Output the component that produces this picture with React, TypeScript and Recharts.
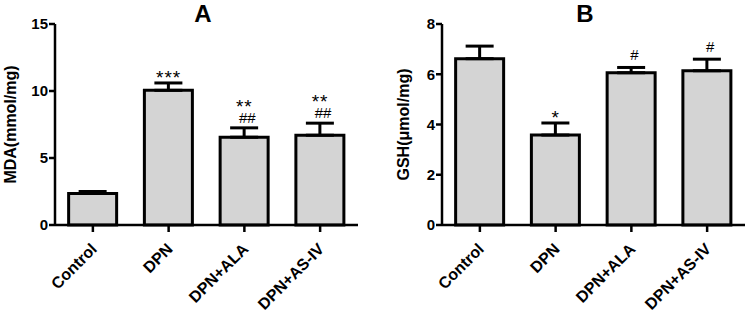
import { ComposedChart, Bar, ErrorBar, Scatter, XAxis, YAxis, Label } from "recharts";

const groups = ["Control", "DPN", "DPN+ALA", "DPN+AS-IV"];

const mdaMean = [2.35, 10.05, 6.55, 6.7];
const mdaErr = [0.15, 0.55, 0.7, 0.9];
const mdaStars = ["", "***", "**", "**"];
const mdaHashes = ["", "", "##", "##"];
const mdaTicks = [0, 5, 10, 15];

const gshMean = [6.62, 3.58, 6.06, 6.14];
const gshErr = [0.5, 0.48, 0.21, 0.46];
const gshStars = ["", "*", "", ""];
const gshHashes = ["", "", "#", "#"];
const gshTicks = [0, 2, 4, 6, 8];

const buildRows = (mean: number[], err: number[], stars: string[], hashes: string[]) =>
  groups.map((name, i) => ({
    name,
    mean: mean[i],
    err: [0, err[i]],
    tip: mean[i] + err[i],
    star: stars[i],
    hash: hashes[i],
  }));

const mdaRows = buildRows(mdaMean, mdaErr, mdaStars, mdaHashes);
const gshRows = buildRows(gshMean, gshErr, gshStars, gshHashes);

const RotTick = (props: any) => {
  const { x, y, payload } = props;
  const ax = x + 5;
  const ay = y + 16;
  return (
    <text
      x={ax}
      y={ay}
      transform={`rotate(-45, ${ax}, ${ay})`}
      textAnchor="end"
      fontSize={16}
      fontWeight="bold"
      fill="#000"
    >
      {payload.value}
    </text>
  );
};

// significance marks drawn above the error bar cap
const Marks = (props: any) => {
  const { cx, cy, payload } = props;
  const hasHash = !!payload.hash;
  return (
    <g>
      {payload.star && (
        <text x={cx} y={hasHash ? cy - 15 : cy + 1} textAnchor="middle" fontSize={19} letterSpacing={1} fill="#000">
          {payload.star}
        </text>
      )}
      {hasHash && (
        <text x={cx + 3} y={payload.star ? cy - 5 : cy - 7} textAnchor="middle" fontSize={15} fill="#000">
          {payload.hash}
        </text>
      )}
    </g>
  );
};

const axisLine = { stroke: "#000", strokeWidth: 2.5 };

function Panel({ rows, ticks, max, yLabel, yWidth, labelX, right }: any) {
  return (
    <ComposedChart
      width={375}
      height={310}
      data={rows}
      margin={{ top: 24, right, left: 0, bottom: 0 }}
      barCategoryGap="18%"
    >
      <XAxis
        dataKey="name"
        interval={0}
        height={85}
        tickSize={7}
        axisLine={axisLine}
        tickLine={axisLine}
        tick={<RotTick />}
      />
      <YAxis
        domain={[0, max]}
        ticks={ticks}
        width={yWidth}
        tickSize={6}
        tickMargin={1}
        axisLine={axisLine}
        tickLine={axisLine}
        tick={{ fontSize: 15, fontWeight: "bold", fill: "#000" }}
      >
        <Label
          content={(p: any) => {
            const vb = p.viewBox;
            const cx = vb.x + labelX;
            const cy = vb.y + vb.height / 2;
            return (
              <text
                x={cx}
                y={cy}
                transform={`rotate(-90, ${cx}, ${cy})`}
                textAnchor="middle"
                dominantBaseline="central"
                fontSize={16}
                fontWeight="bold"
                fill="#000"
              >
                {yLabel}
              </text>
            );
          }}
        />
      </YAxis>
      <Bar dataKey="mean" fill="#d4d4d4" stroke="#000" strokeWidth={3} isAnimationActive={false}>
        <ErrorBar dataKey="err" width={14} stroke="#000" strokeWidth={3} direction="y" />
      </Bar>
      <Scatter dataKey="tip" shape={<Marks />} isAnimationActive={false} />
    </ComposedChart>
  );
}

export default function App() {
  return (
    <div
      style={{
        position: "absolute",
        left: 0,
        top: 0,
        width: 750,
        height: 310,
        background: "#fff",
        fontFamily: "Arial, 'Liberation Sans', sans-serif",
      }}
    >
      <div style={{ display: "flex" }}>
        <Panel rows={mdaRows} ticks={mdaTicks} max={15} yLabel="MDA(mmol/mg)" yWidth={55} labelX={10} right={17} />
        <Panel rows={gshRows} ticks={gshTicks} max={8} yLabel="GSH(μmol/mg)" yWidth={67} labelX={28} right={5} />
      </div>
      <svg width={750} height={310} style={{ position: "absolute", left: 0, top: 0, pointerEvents: "none" }}>
        <text x={203} y={22} textAnchor="middle" fontSize={24} fontWeight="bold" fill="#000">A</text>
        <text x={585} y={22} textAnchor="middle" fontSize={24} fontWeight="bold" fill="#000">B</text>
      </svg>
    </div>
  );
}
